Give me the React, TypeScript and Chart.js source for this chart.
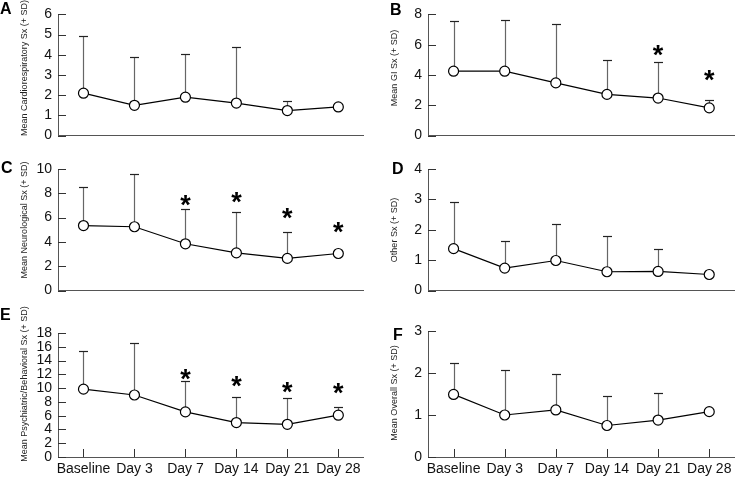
import React, { useEffect, useRef } from "react";
import { Chart, registerables } from "chart.js";

Chart.register(...registerables);

const categories = ["Baseline", "Day 3", "Day 7", "Day 14", "Day 21", "Day 28"];

const cardioMean = [2.1, 1.5, 1.9, 1.61, 1.24, 1.42];
const cardioUpper = [4.93, 3.89, 4.05, 4.4, 1.72, null];
const cardioStars = [null, null, null, null, null, null];

const giMean = [4.25, 4.25, 3.48, 2.72, 2.48, 1.83];
const giUpper = [7.58, 7.62, 7.39, 5.01, 4.88, 2.34];
const giStars = [null, null, null, null, 5.7, 4.1];

const neuroMean = [5.35, 5.25, 3.85, 3.1, 2.65, 3.05];
const neuroUpper = [8.55, 9.6, 6.7, 6.45, 4.8, null];
const neuroStars = [null, null, 7.55, 7.8, 6.5, 5.3];

const otherMean = [1.38, 0.74, 0.99, 0.62, 0.63, 0.53];
const otherUpper = [2.9, 1.64, 2.19, 1.81, 1.38, null];
const otherStars = [null, null, null, null, null, null];

const psychMean = [9.85, 9.0, 6.55, 5.0, 4.75, 6.07];
const psychUpper = [15.4, 16.5, 11.05, 8.7, 8.5, 7.3];
const psychStars = [null, null, 12.2, 11.2, 10.3, 10.2];

const overallMean = [1.49, 1.0, 1.12, 0.75, 0.88, 1.08];
const overallUpper = [2.25, 2.07, 1.97, 1.46, 1.52, null];
const overallStars = [null, null, null, null, null, null];

const yMaxA = 6, yStepA = 1;
const yMaxB = 8, yStepB = 2;
const yMaxC = 10, yStepC = 2;
const yMaxD = 4, yStepD = 1;
const yMaxE = 18, yStepE = 2;
const yMaxF = 3, yStepF = 1;

const FONT = "'Liberation Sans', Arial, Helvetica, sans-serif";
const AXIS = "#555";

type Panel = {
  letter: string;
  title: string;
  mean: number[];
  upper: (number | null)[];
  stars: (number | null)[];
  yMax: number;
  yStep: number;
  showX: boolean;
  left: number;
  top: number;
  w: number;
  h: number;
  padTop: number;
  plotBottom: number;
  letterX: number;
  letterY: number;
  titleCY: number;
};

const panels: Panel[] = [
  { letter: "A", title: "Mean Cardiorespiratory Sx (+ SD)", mean: cardioMean, upper: cardioUpper, stars: cardioStars, yMax: yMaxA, yStep: yStepA, showX: false, left: 0, top: 0, w: 370, h: 150, padTop: 12, plotBottom: 137, letterX: 0, letterY: 14, titleCY: 68 },
  { letter: "B", title: "Mean GI Sx (+ SD)", mean: giMean, upper: giUpper, stars: giStars, yMax: yMaxB, yStep: yStepB, showX: false, left: 370, top: 0, w: 371, h: 150, padTop: 12, plotBottom: 137, letterX: 20, letterY: 15, titleCY: 68 },
  { letter: "C", title: "Mean Neurological Sx (+ SD)", mean: neuroMean, upper: neuroUpper, stars: neuroStars, yMax: yMaxC, yStep: yStepC, showX: false, left: 0, top: 150, w: 370, h: 155, padTop: 19, plotBottom: 144, letterX: 1, letterY: 23, titleCY: 70 },
  { letter: "D", title: "Other Sx (+ SD)", mean: otherMean, upper: otherUpper, stars: otherStars, yMax: yMaxD, yStep: yStepD, showX: false, left: 370, top: 150, w: 371, h: 155, padTop: 19, plotBottom: 144, letterX: 22, letterY: 24, titleCY: 80 },
  { letter: "E", title: "Mean Psychiatric/Behavioral Sx (+ SD)", mean: psychMean, upper: psychUpper, stars: psychStars, yMax: yMaxE, yStep: yStepE, showX: true, left: 0, top: 305, w: 370, h: 175, padTop: 28, plotBottom: 152, letterX: 0, letterY: 15, titleCY: 79 },
  { letter: "F", title: "Mean Overall Sx (+ SD)", mean: overallMean, upper: overallUpper, stars: overallStars, yMax: yMaxF, yStep: yStepF, showX: true, left: 370, top: 305, w: 371, h: 175, padTop: 26, plotBottom: 152, letterX: 23, letterY: 35, titleCY: 88 },
];

function makeDecor(p: Panel) {
  return {
    id: "decor" + p.letter,
    beforeDatasetsDraw(chart: any) {
      const ctx = chart.ctx;
      const x = chart.scales.x;
      const y = chart.scales.y;
      const area = chart.chartArea;
      ctx.save();
      ctx.strokeStyle = "#333";
      ctx.lineWidth = 1;
      y.ticks.forEach((t: any) => {
        const py = Math.round(y.getPixelForValue(t.value)) + 0.5;
        ctx.beginPath();
        ctx.moveTo(area.left, py);
        ctx.lineTo(area.left + 8, py);
        ctx.stroke();
      });
      if (p.showX) {
        categories.forEach((_, i) => {
          const px = Math.round(x.getPixelForValue(i)) + 0.5;
          ctx.beginPath();
          ctx.moveTo(px, area.bottom);
          ctx.lineTo(px, area.bottom - 8);
          ctx.stroke();
        });
      }
      p.upper.forEach((u, i) => {
        if (u === null) return;
        const px = Math.round(x.getPixelForValue(i)) + 0.5;
        const pm = y.getPixelForValue(p.mean[i]);
        const pu = Math.round(y.getPixelForValue(u)) + 0.5;
        ctx.strokeStyle = "#666";
        ctx.lineWidth = 1.2;
        ctx.beginPath();
        ctx.moveTo(px, pm);
        ctx.lineTo(px, pu);
        ctx.stroke();
        ctx.strokeStyle = "#222";
        ctx.beginPath();
        ctx.moveTo(px - 4.5, pu);
        ctx.lineTo(px + 4.5, pu);
        ctx.stroke();
      });
      ctx.restore();
    },
    afterDraw(chart: any) {
      const ctx = chart.ctx;
      const x = chart.scales.x;
      const y = chart.scales.y;
      ctx.save();
      const starSize = 27;
      ctx.fillStyle = "#000";
      ctx.font = `bold ${starSize}px ${FONT}`;
      ctx.textAlign = "center";
      ctx.textBaseline = "alphabetic";
      p.stars.forEach((s, i) => {
        if (s === null) return;
        const px = x.getPixelForValue(i);
        const py = y.getPixelForValue(s);
        ctx.fillText("*", px, py + starSize * 0.56);
      });
      ctx.font = `bold 16px ${FONT}`;
      ctx.textAlign = "left";
      ctx.fillText(p.letter, p.letterX, p.letterY);
      ctx.translate(25, p.titleCY);
      ctx.rotate(-Math.PI / 2);
      ctx.font = `9px ${FONT}`;
      ctx.fillStyle = "#222";
      ctx.textAlign = "center";
      ctx.textBaseline = "middle";
      ctx.fillText(p.title, 0, 0);
      ctx.restore();
    },
  };
}

function PanelChart({ p }: { p: Panel }) {
  const ref = useRef<HTMLCanvasElement | null>(null);
  useEffect(() => {
    if (!ref.current) return;
    const xh = p.h - p.plotBottom;
    const chart = new Chart(ref.current, {
      type: "line",
      data: {
        labels: categories,
        datasets: [
          {
            data: p.mean,
            borderColor: "#000",
            borderWidth: 1.2,
            pointRadius: 5,
            pointBackgroundColor: "#fff",
            pointBorderColor: "#000",
            pointBorderWidth: 1.2,
            tension: 0,
            clip: false as any,
          },
        ],
      },
      options: {
        animation: false,
        responsive: false,
        maintainAspectRatio: false,
        devicePixelRatio: 1,
        layout: { padding: { top: p.padTop, right: p.w - 368, left: 0, bottom: 0 } },
        plugins: { legend: { display: false }, tooltip: { enabled: false } },
        scales: {
          x: {
            offset: true,
            grid: { display: false, drawTicks: false },
            border: { display: true, color: AXIS, width: 1 },
            ticks: {
              display: p.showX,
              font: { family: FONT, size: 14 },
              color: "#111",
              padding: 4,
              autoSkip: false,
              maxRotation: 0,
            },
            afterFit: (s: any) => {
              s.height = xh;
            },
          },
          y: {
            min: 0,
            max: p.yMax,
            ticks: {
              stepSize: p.yStep,
              autoSkip: false,
              font: { family: FONT, size: 14 },
              color: "#111",
              padding: 6,
            },
            grid: { display: false, drawTicks: false },
            border: { display: true, color: AXIS, width: 1 },
            afterFit: (s: any) => {
              s.width = 58;
            },
          },
        },
      },
      plugins: [makeDecor(p)],
    } as any);
    return () => chart.destroy();
  }, [p]);
  return (
    <canvas
      ref={ref}
      width={p.w}
      height={p.h}
      style={{ position: "absolute", left: p.left, top: p.top, width: p.w, height: p.h }}
    />
  );
}

export default function App() {
  return (
    <div style={{ position: "absolute", left: 0, top: 0, width: 741, height: 480, background: "#fff" }}>
      {panels.map((p) => (
        <PanelChart key={p.letter} p={p} />
      ))}
    </div>
  );
}
